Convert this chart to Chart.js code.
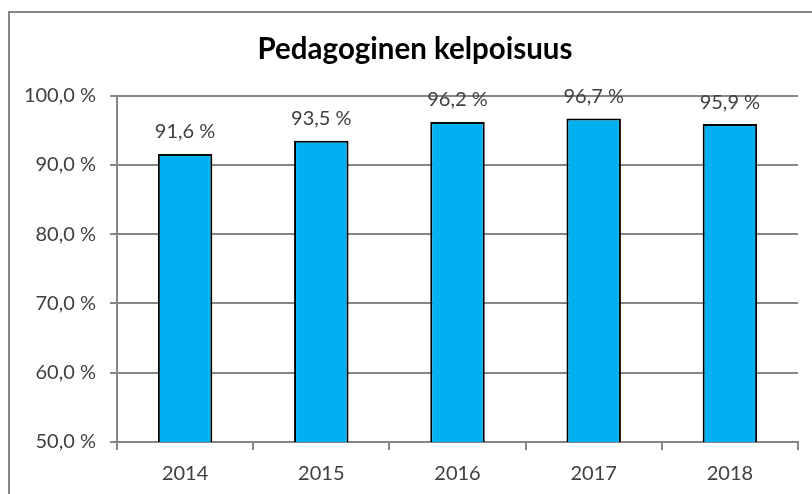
<!DOCTYPE html>
<html>
<head>
<meta charset="utf-8">
<script src="https://cdn.jsdelivr.net/npm/chart.js@4/dist/chart.umd.min.js"></script>
<style>
  html, body { margin: 0; padding: 0; background: #fff; overflow: hidden; width: 812px; height: 494px; }
  #frame { position: absolute; left: 8px; top: 11px; width: 900px; height: 600px; border-left: 2px solid #868686; border-top: 2px solid #868686; }
  #c { position: absolute; left: 0; top: 0; }
</style>
</head>
<body>
<div id="frame"></div>
<canvas id="c" width="812" height="494"></canvas>
<script>
const titleText = 'Pedagoginen kelpoisuus';
const categories = ['2014', '2015', '2016', '2017', '2018'];
const values = [91.6, 93.5, 96.2, 96.7, 95.9];
const yTicks = [50, 60, 70, 80, 90, 100];

const fmt = v => v.toFixed(1).replace('.', ',') + '\u00a0%';
const FONT = 'Lato, "Open Sans", sans-serif';

const dataLabels = {
  id: 'dataLabels',
  afterDatasetsDraw(chart) {
    const ctx = chart.ctx;
    const meta = chart.getDatasetMeta(0);
    ctx.save();
    ctx.font = '20px ' + FONT;
    ctx.fillStyle = '#404040';
    ctx.textAlign = 'center';
    ctx.textBaseline = 'middle';
    meta.data.forEach((bar, i) => {
      ctx.fillText(fmt(values[i]), bar.x, bar.y - 22);
    });
    ctx.restore();
  }
};

const shiftTitle = {
  id: 'shiftTitle',
  afterLayout(chart) {
    if (chart.titleBlock) chart.titleBlock.left = 32;
  }
};

new Chart(document.getElementById('c'), {
  type: 'bar',
  data: {
    labels: categories,
    datasets: [{
      data: values,
      backgroundColor: '#00B0F0',
      borderColor: '#000000',
      borderWidth: 2,
      borderSkipped: 'bottom',
      barPercentage: 0.4,
      categoryPercentage: 1.0
    }]
  },
  options: {
    responsive: false,
    animation: false,
    devicePixelRatio: 1,
    layout: { padding: { left: 0, right: 14, top: 0, bottom: 0 } },
    plugins: {
      legend: { display: false },
      tooltip: { enabled: false },
      title: {
        display: true,
        text: titleText,
        color: '#000000',
        font: { family: FONT, size: 29.5, weight: 'bold', lineHeight: 1.2 },
        padding: { top: 32, bottom: 28.3 }
      }
    },
    scales: {
      x: {
        grid: { drawOnChartArea: false, drawTicks: true, tickLength: 8, color: '#868686', lineWidth: 2 },
        border: { display: true, color: '#868686', width: 2 },
        ticks: { color: '#404040', font: { family: FONT, size: 20 }, padding: 12 },
        afterFit(s) { s.height = 52; }
      },
      y: {
        min: 50,
        max: 100,
        afterBuildTicks(s) { s.ticks = yTicks.map(v => ({ value: v })); },
        grid: { color: '#868686', lineWidth: 2, tickLength: 7 },
        border: { display: true, color: '#868686', width: 2 },
        ticks: { color: '#404040', font: { family: FONT, size: 20 }, padding: 14, callback: v => fmt(v) },
        afterFit(s) { s.width = 117; }
      }
    }
  },
  plugins: [dataLabels, shiftTitle]
});
</script>
</body>
</html>
